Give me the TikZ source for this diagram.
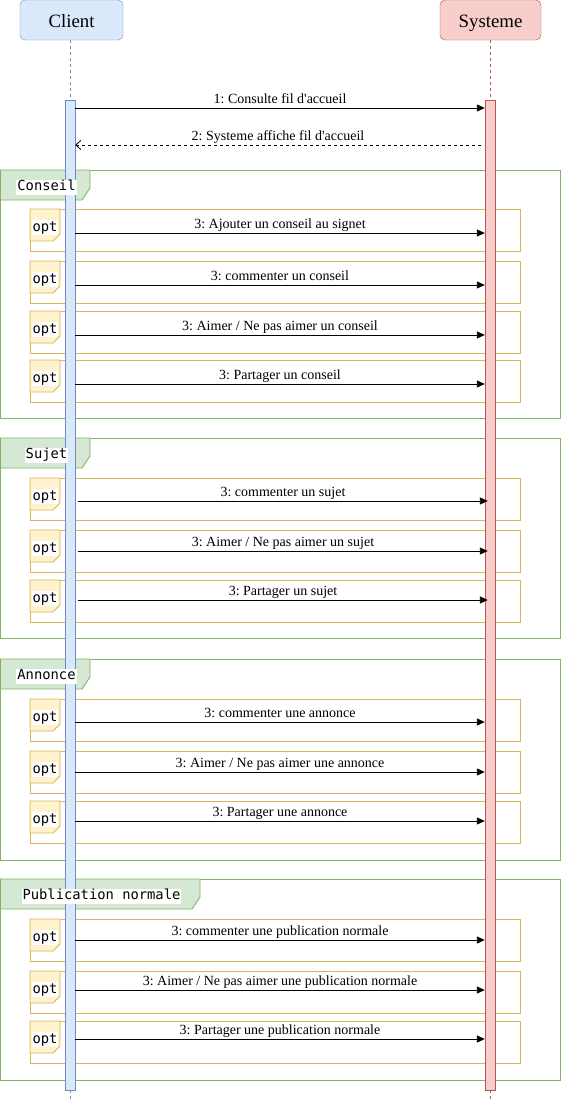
\documentclass[tikz,border=0pt]{standalone}
\usepackage{fontspec}
\setmainfont{Liberation Serif}
\newfontfamily\monof{DejaVu Sans Mono}
\usetikzlibrary{arrows.meta,calc}
\definecolor{bluefill}{HTML}{DAE8FC}
\definecolor{bluedraw}{HTML}{6C8EBF}
\definecolor{redfill}{HTML}{F8CECC}
\definecolor{reddraw}{HTML}{B85450}
\definecolor{greenfill}{HTML}{D5E8D4}
\definecolor{greendraw}{HTML}{82B366}
\definecolor{yelfill}{HTML}{FFF2CC}
\definecolor{yeldraw}{HTML}{D6B656}
\frenchspacing
\tikzset{
  actor/.style={draw=#1draw, fill=#1fill, rounded corners=5pt, minimum height=40pt,
    inner sep=0pt, text height=17pt, text depth=2pt, font=\fontsize{18.8}{20}\selectfont},
  actbar/.style={draw=#1draw, fill=#1fill, minimum width=10pt, minimum height=990pt, inner sep=0pt},
  life/.style={draw=#1draw, dash pattern=on 3pt off 3pt, line width=0.8pt},
  frm/.style={draw=greendraw, line width=0.9pt},
  frmlab/.style={draw=greendraw, fill=greenfill, line width=0.9pt},
  frmtxt/.style={fill=white, inner sep=1pt, text height=10pt, text depth=3pt, font=\monof\fontsize{13.8}{15}\selectfont},
  optf/.style={draw=yeldraw, line width=0.9pt},
  optlab/.style={draw=yeldraw, fill=yelfill, line width=0.9pt},
  opttxt/.style={fill=white, inner sep=1pt, text height=10pt, text depth=3pt, font=\monof\fontsize{13.8}{15}\selectfont},
  msg/.style={draw=black, line width=0.9pt, -{Triangle[length=8pt,width=7pt]}},
  reply/.style={draw=black, line width=0.8pt, dash pattern=on 3pt off 3pt, -{Straight Barb[length=5pt,width=9pt]}},
  mlab/.style={above=1pt, inner sep=0pt, text height=10pt, text depth=3pt, font=\fontsize{14}{16}\selectfont},
}
\newcommand{\seqframe}[3]{% top, bottom, labelwidth
  \draw[frm] (0.5,#1) rectangle (560,#2);
  \draw[frmlab] (0.5,#1) -- (#3,#1) -- (#3,#1+18) -- (#3-8,#1+30) -- (0.5,#1+30) -- cycle;
}
\newcommand{\frametext}[4]{% name, top, labelwidth, text
  \node[frmtxt] (#1) at ({(#3+3)/2},#2+17) {#4};
}
\newcommand{\optbox}[2]{%
  \draw[optf] (30,#2) rectangle (520,#2+42);
  \draw[optlab] (30,#2) -- (60,#2) -- (60,#2+25) -- (53,#2+32) -- (30,#2+32) -- cycle;
  \node[opttxt] (#1) at (45,#2+18.5) {opt};
}
\newcommand{\msgline}[3]{% y, label, extra x shift
  \draw[msg] ($(cbar.east |- 0,#1)+(#3,0)$) -- node[mlab] {#2} ($(sbar.west |- 0,#1)+(#3,0)$);
}
\newcommand{\ap}{\textquotesingle}
\begin{document}
\begin{tikzpicture}[x=1pt,y=-1pt]
\useasboundingbox (0,0) rectangle (561,1101);
% frames
\seqframe{170}{418}{90}
\optbox{o1}{209}\optbox{o2}{261}\optbox{o3}{311}\optbox{o4}{360}
\seqframe{438}{638}{90}
\optbox{o5}{478}\optbox{o6}{530}\optbox{o7}{580}
\seqframe{659}{860}{90}
\optbox{o8}{699}\optbox{o9}{751}\optbox{o10}{801}
\seqframe{879}{1080}{200}
\optbox{o11}{919}\optbox{o12}{971}\optbox{o13}{1021}
% actors
\node[actor=blue, minimum width=103pt] (client) at (71.5,20) {Client};
\node[actor=red, minimum width=101pt] (sys) at (490.5,20) {Systeme};
\coordinate (cend) at (70,1101);
\coordinate (send) at (490,1101);
\node[actbar=blue] (cbar) at (70,595) {};
\node[actbar=red] (sbar) at (490,595) {};
\draw[life=blue] (client.south -| cbar.north) -- (cbar.north);
\draw[life=blue] (cbar.south) -- (cend);
\draw[life=red] (sys.south -| sbar.north) -- (sbar.north);
\draw[life=red] (sbar.south) -- (send);
% frame labels (over the activation bar)
\frametext{fconseil}{170}{90}{Conseil}
\frametext{fsujet}{438}{90}{Sujet}
\frametext{fannonce}{659}{90}{Annonce}
\frametext{fpub}{879}{200}{Publication normale}
% messages
\msgline{108}{1: Consulte fil d\ap accueil}{0}
\draw[reply] ($(sbar.west |- 0,145)+(-4,0)$) -- node[mlab] {2: Systeme affiche fil d\ap accueil} (cbar.east |- 0,145);
\msgline{233}{3: Ajouter un conseil au signet}{0}
\msgline{285}{3: commenter un conseil}{0}
\msgline{335}{3: Aimer / Ne pas aimer un conseil}{0}
\msgline{384}{3: Partager un conseil}{0}
\msgline{501}{3: commenter un sujet}{3}
\msgline{551}{3: Aimer / Ne pas aimer un sujet}{3}
\msgline{600}{3: Partager un sujet}{3}
\msgline{722}{3: commenter une annonce}{0}
\msgline{772}{3: Aimer / Ne pas aimer une annonce}{0}
\msgline{821}{3: Partager une annonce}{0}
\msgline{940}{3: commenter une publication normale}{0}
\msgline{990}{3: Aimer / Ne pas aimer une publication normale}{0}
\msgline{1039}{3: Partager une publication normale}{0}
\end{tikzpicture}
\end{document}
